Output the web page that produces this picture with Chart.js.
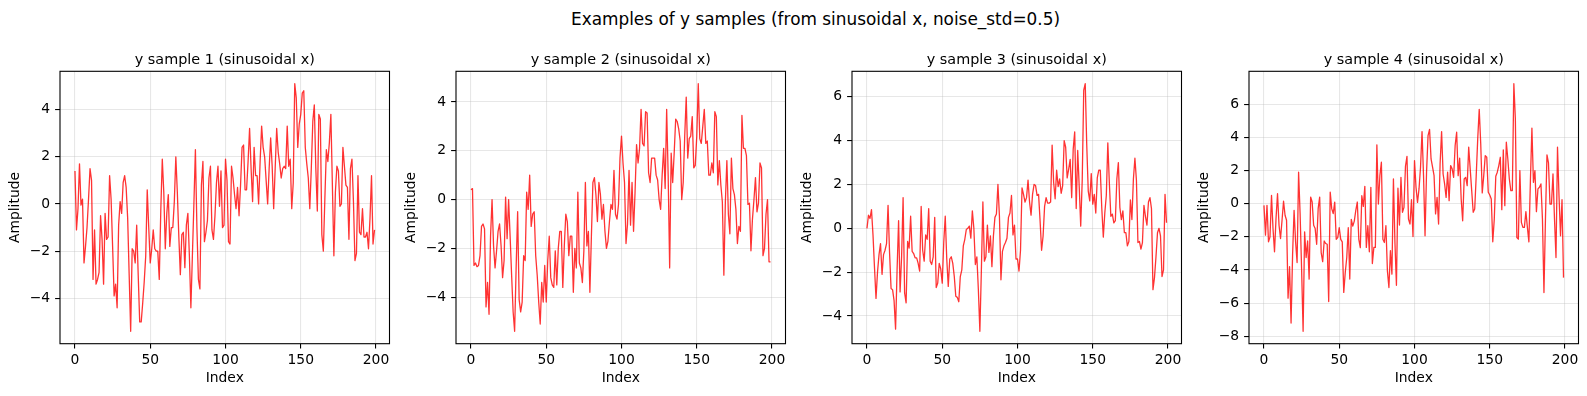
<!DOCTYPE html>
<html>
<head>
<meta charset="utf-8">
<script src="https://cdn.jsdelivr.net/npm/chart.js@4.4.1/dist/chart.umd.min.js"></script>
<style>
  html, body { margin: 0; padding: 0; background: #ffffff; }
  #wrap { position: relative; width: 1587px; height: 396px; overflow: hidden; background: #ffffff; }
  #sup { position: absolute; left: 815.5px; top: 6.5px; transform: translateX(-50%);
         font-family: 'DejaVu Sans', sans-serif; font-size: 16.9px; line-height: 24px;
         white-space: nowrap; color: #000; }
  canvas { position: absolute; }
</style>
</head>
<body>
<div id="wrap">
  <div id="sup">Examples of y samples (from sinusoidal x, noise_std=0.5)</div>
  <canvas id="c0"></canvas>
  <canvas id="c1"></canvas>
  <canvas id="c2"></canvas>
  <canvas id="c3"></canvas>
</div>
<script>
// ---------------- data ----------------
const titles = [
  'y sample 1 (sinusoidal x)',
  'y sample 2 (sinusoidal x)',
  'y sample 3 (sinusoidal x)',
  'y sample 4 (sinusoidal x)'
];
const xLabel = 'Index';
const yLabel = 'Amplitude';
const xTickValues = [0, 50, 100, 150, 200];
const yTicks1 = [-4, -2, 0, 2, 4];
const yTicks2 = [-4, -2, 0, 2, 4];
const yTicks3 = [-4, -2, 0, 2, 4, 6];
const yTicks4 = [-8, -6, -4, -2, 0, 2, 4, 6];

const sample1 = [
  1.4, -1.1, -0.2, 1.7, -0.05, 0.2, -2.5, -1.8, -1.0, 0.2,
  1.5, 1.0, -3.2, -1.1, -3.4, -3.2, -2.9, -0.5, -1.5, -3.4,
  -0.4, -1.5, -1.4, 1.2, 0.2, -1.8, -3.9, -3.4, -4.4, -0.9,
  0.1, -0.4, 0.9, 1.2, 0.7, -0.6, -3.0, -5.4, -1.9, -2.0,
  -2.5, -0.9, -3.0, -5.0, -5.0, -4.2, -3.3, -2.2, 0.6, -1.0,
  -2.5, -1.9, -1.1, -1.9, -2.0, -2.0, -3.2, -0.3, 1.9, 0.5,
  -1.9, -0.4, 0.4, -1.8, -1.0, -1.0, 0.1, 2.0, 0.5, -1.4,
  -3.0, -1.3, -1.2, -2.7, -0.9, -0.4, -2.2, -4.4, -2.2, 0.0,
  2.3, -1.0, -3.2, -3.6, 0.8, 1.8, -1.6, -1.2, -0.7, 1.1,
  1.6, -1.1, -1.5, -0.5, 0.9, 1.6, -0.1, 1.4, -1.0, -0.9,
  1.9, 1.0, -1.6, -1.7, 1.6, 1.1, 0.4, -0.2, 0.7, -0.5,
  0.8, 2.4, 2.5, 0.6, 0.6, 1.8, 3.2, 1.5, 0.1, 2.4,
  1.2, 1.2, 0.0, 1.8, 3.3, 2.4, 2.0, 1.0, 0.0, 1.5,
  2.8, 1.6, -0.2, 1.5, 3.2, 2.2, 1.7, 1.1, 1.5, 1.6,
  1.5, 3.3, 1.6, 1.9, -0.2, 0.9, 5.1, 4.5, 2.4, 3.4,
  3.8, 4.7, 4.8, 2.4, 1.7, 1.1, -0.2, 1.5, 3.5, 4.2,
  1.5, -0.3, 3.8, 3.6, -1.3, -2.0, 0.2, 2.3, 1.8, 2.6,
  3.8, 0.8, -2.2, 0.5, 1.6, 1.4, -0.1, 0.0, 2.4, 1.6,
  0.8, 0.7, -1.5, 1.5, 1.9, 0.1, -2.4, -2.1, 1.2, -1.2,
  -1.3, -0.2, -1.4, -1.4, -1.2, -1.9, -0.6, 1.2, -1.7, -1.1
];
const sample2 = [
  0.4, 0.45, -2.7, -2.6, -2.75, -2.7, -2.3, -1.1, -1.0, -1.2,
  -4.4, -3.4, -4.7, -1.5, 0.0, -1.9, -2.8, -2.1, -1.3, -1.0,
  -1.9, -3.2, -2.5, 0.1, -1.6, 0.0, -1.5, -3.1, -4.6, -5.4,
  -2.8, -0.5, -4.1, -4.6, -4.2, -2.3, -2.5, 0.3, -0.4, 1.0,
  -1.1, -0.6, -0.5, -2.3, -3.1, -4.2, -5.1, -3.4, -4.2, -2.7,
  -4.2, -2.5, -1.5, -3.2, -3.5, -3.6, -2.1, -3.5, -2.0, -1.3,
  -1.3, -3.6, -1.9, -0.6, -0.9, -2.3, -1.5, -1.5, -3.8, -2.0,
  -2.8, 0.3, -2.6, -2.8, -3.4, -2.1, 0.7, -1.9, -1.3, -3.8,
  -1.5, 0.7, 0.9, 0.2, -0.9, 0.7, 0.2, -0.8, -0.2, -1.3,
  -2.0, -1.7, -0.9, -0.2, -0.4, 1.2, -0.6, -0.8, -0.2, 1.7,
  2.6, 1.5, 0.7, -1.8, -1.0, 1.2, -1.05, 0.7, -1.3, 0.3,
  2.25, 1.5, 2.1, 3.7, 2.3, 2.2, 3.6, 3.55, 1.1, 0.7,
  1.7, 1.7, 1.7, 1.0, 0.8, 0.0, -0.4, 1.0, 2.1, 0.45,
  3.7, 1.0, -2.8, 1.9, 0.7, 1.9, 3.3, 3.2, 2.9, 2.4,
  0.0, 0.7, 2.6, 4.2, 1.7, 2.5, 2.6, 3.4, 1.3, 1.4,
  2.6, 4.75, 2.5, 2.3, 3.0, 3.7, 2.3, 2.4, 1.0, 1.0,
  1.5, 1.1, 3.6, 3.4, 0.6, 1.6, 0.6, -0.1, -3.1, -0.1,
  1.6, -0.6, -1.4, 1.7, 0.45, 0.2, -0.4, -1.8, -1.1, -1.3,
  3.45, 2.1, 2.1, 1.8, -0.2, -0.15, -2.1, -0.8, 0.0, 0.9,
  -0.5, -0.15, 1.5, 1.3, -2.3, -2.0, -0.6, 0.0, -2.55, -2.55
];
const sample3 = [
  0.0, 0.6, 0.45, 0.85, -0.3, -1.8, -3.2, -2.0, -1.2, -0.7,
  -2.1, -1.2, -1.0, -0.7, 1.05, -1.1, -2.75, -2.8, -3.3, -4.6,
  -1.9, 0.35, -2.9, -1.3, 1.4, -2.95, -3.4, -0.6, -0.9, 0.55,
  -1.05, -1.15, -1.35, -1.35, -1.6, -1.95, 1.0, -1.0, -1.5, -0.3,
  -0.5, 0.9, -1.5, -1.65, -1.3, 0.5, -2.7, -2.5, -1.6, -1.85,
  -2.5, -0.65, 0.55, -1.4, -2.65, -1.4, -1.3, -1.6, -2.2, -3.1,
  -3.15, -3.35, -2.2, -1.9, -0.8, -0.5, -0.05, 0.0, 0.1, -0.45,
  0.8, 0.0, -1.65, -1.3, -2.8, -4.7, -1.9, 1.2, -1.5, -1.3,
  0.15, -1.1, -0.35, -1.75, -0.35, 0.5, 0.65, 2.0, 0.55, -2.35,
  -1.05, -0.8, -0.65, -0.45, 0.5, 0.7, 1.5, -0.3, 0.15, -1.4,
  -1.4, -1.95, -1.0, 1.85, 1.55, 1.2, 1.4, 2.2, 1.2, 0.6,
  1.55, 2.0, 1.95, 1.5, 1.55, 0.35, -1.0, -0.35, 1.0, 1.4,
  1.15, 1.15, 1.2, 3.8, 2.1, 1.35, 2.65, 1.9, 2.25, 1.6,
  1.95, 4.0, 3.7, 2.3, 2.7, 3.15, 1.4, 3.6, 4.4, 0.9,
  3.55, 1.9, 0.1, 2.2, 6.3, 6.6, 3.8, 1.7, 1.25, 2.5,
  1.1, 1.55, 0.7, 2.3, 2.65, 2.65, 0.9, -0.4, 0.7, 1.5,
  3.9, 2.1, 0.55, 0.65, 0.25, 0.35, 2.25, 3.0, 0.95, 0.4,
  0.8, -0.2, -0.2, -0.8, -0.6, 1.3, 0.4, 2.25, 3.2, 2.2,
  -0.65, -0.6, -0.95, -0.65, 1.05, 0.55, 0.15, 1.2, 1.4, 0.9,
  -2.8, -2.25, -1.3, -0.2, 0.0, -0.35, -2.2, -1.9, 1.55, 0.25
];
const sample4 = [
  -0.1, -1.9, -0.1, -2.3, -2.0, 0.5, -1.5, -2.9, -0.9, 0.6,
  -1.3, -2.1, -1.0, 0.15, -0.7, -1.0, -5.7, -3.8, -7.2, -3.1,
  -0.4, -2.3, -3.55, 1.9, -0.6, -3.95, -7.7, -1.7, -3.25, -2.25,
  -4.55, 0.4, 0.1, -1.3, -1.5, -2.45, -0.3, 0.4, -2.95, -3.5,
  -2.25, -2.4, -2.45, -5.9, 0.7, -0.3, -0.6, 0.1, -2.15, -2.05,
  -1.45, -2.15, -2.3, -5.35, -4.15, -3.25, -1.45, -4.55, -0.95, -1.35,
  -1.05, -0.4, 0.1, -2.15, -2.65,
  0.48, -0.16, 1.05, -2.64, -1.33, -2.9, 0.99, -3.61, -2.64, -2.64,
  3.55, -0.02, 1.69, 2.5, -2.14, -2.34, -1.33, -4.05, -5.06, -2.84,
  -4.25, 1.49, -2.34, -4.92, 0.93, -1.29, 1.59, -0.52, -0.22, 2.26,
  2.86, -0.93, -1.23, 0.24, -1.98, 2.6, 0.99, 0.08, 0.89, 2.2,
  4.35, 1.69, -1.94, 1.9, 4.11, 4.48, 2.7, 2.2, 1.69, -0.62,
  0.38, -1.23, 2.4, 4.35, 1.79, 1.19, 0.38, 1.9, 0.18, 2.3,
  2.1, 1.59, 3.5, 4.31, 1.69, 2.74, 0.28, -1.03, 1.49, 1.59,
  1.09, 3.41, 2.1, 0.79,
  -0.52, -0.32, 1.69, 3.91, 5.69, 3.61, 0.65, 1.69, 2.9, 2.8,
  0.69, 0.52, 0.28, -2.3, -0.93, 1.65, 1.9, 2.3, 2.8, -0.36,
  3.25, -0.12, 3.71, 2.7, 1.49, 0.79, 0.79, 7.24, 5.12, -2.04,
  -2.14, 2.0, -1.13, -1.43, -1.43, -0.48, -1.43, -2.3, 1.39, 4.56,
  1.29, 2.0, -0.48, 0.89, 0.99, 1.19, -0.93, -5.36, -0.93, 2.94,
  2.46, -0.02, -0.02, 1.79, -0.93, -3.25, 3.41, 0.48, -1.94, 0.24, -4.46
];

const series = [sample1, sample2, sample3, sample4];
const yTickSets = [yTicks1, yTicks2, yTicks3, yTicks4];

// ---------------- layout ----------------
const FONT = "'DejaVu Sans', sans-serif";
const TICK_SIZE = 13.89;
const LABEL_SIZE = 13.89;
const TITLE_SIZE = 14.4;
const axesLefts = [60, 456, 852, 1249];
const Y_AXIS_W = 62;
const RIGHT_PAD = 16.5;
const CANVAS_W = 408;
const CANVAS_TOP = 30;
const CANVAS_H = 366;
const X_AXIS_H = 52.3;
const TITLE_PAD_TOP = 21.4;
const TITLE_PAD_BOTTOM = 41.3 - TITLE_PAD_TOP - TITLE_SIZE * 1.2;

const fmt = v => (v < 0 ? '\u2212' + Math.abs(v) : String(v));

const framePlugin = {
  id: 'frame',
  afterDatasetsDraw(chart) {
    const a = chart.chartArea, ctx = chart.ctx;
    ctx.save();
    ctx.strokeStyle = '#000';
    ctx.lineWidth = 1.1;
    ctx.strokeRect(a.left, a.top, a.right - a.left, a.bottom - a.top);
    ctx.restore();
  }
};

function makeChart(idx) {
  const data = series[idx];
  const yTicks = yTickSets[idx];
  const canvas = document.getElementById('c' + idx);
  canvas.width = CANVAS_W;
  canvas.height = CANVAS_H;
  canvas.style.left = (axesLefts[idx] - Y_AXIS_W) + 'px';
  canvas.style.top = CANVAS_TOP + 'px';
  canvas.style.width = CANVAS_W + 'px';
  canvas.style.height = CANVAS_H + 'px';

  const pts = data.map((v, i) => ({ x: i, y: v }));
  const n = data.length - 1;
  const lo = Math.min(...data), hi = Math.max(...data);
  const m = (hi - lo) * 0.05;

  const gridCommon = {
    color: 'rgba(176,176,176,0.3)',
    lineWidth: 1.1,
    drawTicks: true,
    tickLength: 4.9,
    tickColor: '#000',
    tickWidth: 1.1
  };

  new Chart(canvas, {
    type: 'line',
    data: {
      datasets: [{
        data: pts,
        borderColor: 'rgba(255,0,0,0.8)',
        borderWidth: 1.3,
        borderJoinStyle: 'round',
        pointRadius: 0,
        pointHoverRadius: 0,
        tension: 0,
        fill: false
      }]
    },
    options: {
      responsive: false,
      animation: false,
      devicePixelRatio: 1,
      events: [],
      layout: { padding: { left: 0, right: RIGHT_PAD, top: 0, bottom: 0 } },
      plugins: {
        legend: { display: false },
        tooltip: { enabled: false },
        title: {
          display: true,
          text: titles[idx],
          fullSize: false,
          color: '#000',
          font: { family: FONT, size: TITLE_SIZE, weight: 'normal', lineHeight: 1.2 },
          padding: { top: TITLE_PAD_TOP, bottom: TITLE_PAD_BOTTOM }
        }
      },
      scales: {
        x: {
          type: 'linear',
          position: 'bottom',
          bounds: 'data',
          min: -0.05 * n,
          max: n * 1.05,
          border: { display: false },
          grid: gridCommon,
          ticks: {
            color: '#000',
            font: { family: FONT, size: TICK_SIZE },
            padding: 3.5,
            autoSkip: false,
            maxRotation: 0,
            includeBounds: false,
            callback: v => fmt(v)
          },
          afterBuildTicks: s => { s.ticks = xTickValues.map(v => ({ value: v })); },
          afterFit: s => { s.height = X_AXIS_H; },
          title: {
            display: true,
            text: xLabel,
            color: '#000',
            font: { family: FONT, size: LABEL_SIZE, lineHeight: 1.2 },
            padding: { top: 0, bottom: 9.2 }
          }
        },
        y: {
          type: 'linear',
          position: 'left',
          bounds: 'data',
          min: lo - m,
          max: hi + m,
          border: { display: false },
          grid: gridCommon,
          ticks: {
            color: '#000',
            font: { family: FONT, size: TICK_SIZE },
            padding: 4.9,
            autoSkip: false,
            includeBounds: false,
            callback: v => fmt(v)
          },
          afterBuildTicks: s => { s.ticks = yTicks.map(v => ({ value: v })); },
          afterFit: s => { s.width = Y_AXIS_W; },
          title: {
            display: true,
            text: yLabel,
            color: '#000',
            font: { family: FONT, size: LABEL_SIZE, lineHeight: 1.2 },
            padding: { top: 9.4, bottom: 0 }
          }
        }
      }
    },
    plugins: [framePlugin]
  });
}

for (let i = 0; i < 4; i++) makeChart(i);
</script>
</body>
</html>
